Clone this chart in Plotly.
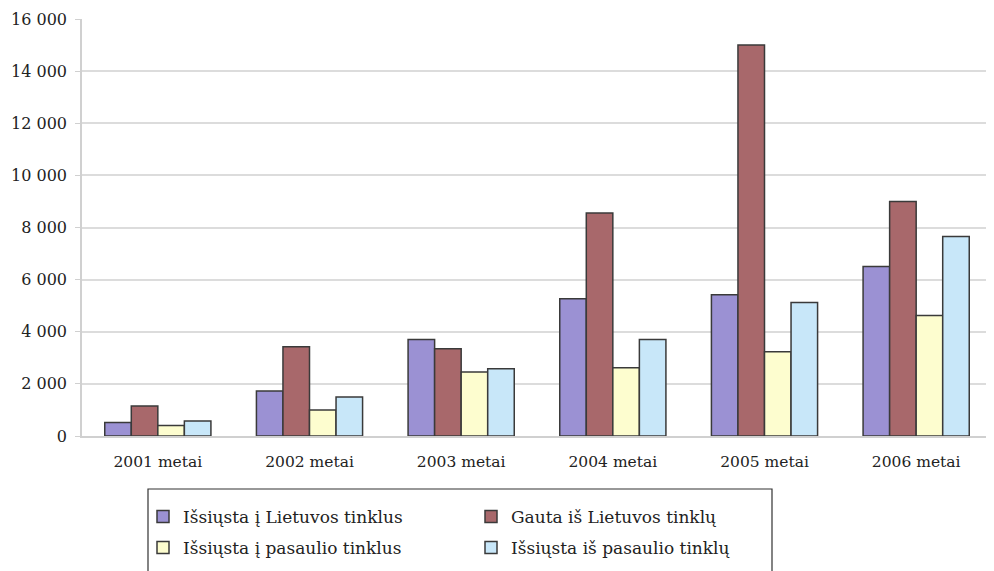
import plotly.graph_objects as go

categories = ["2001 metai", "2002 metai", "2003 metai", "2004 metai", "2005 metai", "2006 metai"]
series_names = ["Išsiųsta į Lietuvos tinklus", "Gauta iš Lietuvos tinklų",
                "Išsiųsta į pasaulio tinklus", "Išsiųsta iš pasaulio tinklų"]
sent_lt = [520, 1730, 3700, 5270, 5420, 6500]
recv_lt = [1150, 3420, 3350, 8560, 15000, 9000]
sent_world = [400, 1000, 2460, 2620, 3230, 4620]
recv_world = [580, 1500, 2580, 3700, 5120, 7650]
tick_vals = [0, 2000, 4000, 6000, 8000, 10000, 12000, 14000, 16000]
tick_text = ["0", "2 000", "4 000", "6 000", "8 000", "10 000", "12 000", "14 000", "16 000"]

colors = ["#9b91d3", "#a8686b", "#fdfdcf", "#c8e7f9"]
values = [sent_lt, recv_lt, sent_world, recv_world]
legend_ids = ["legend", "legend", "legend2", "legend2"]

font_family = "DejaVu Serif"

fig = go.Figure()
for name, vals, col, lg in zip(series_names, values, colors, legend_ids):
    fig.add_trace(go.Bar(
        x=categories, y=vals, name=name, legend=lg,
        marker=dict(color=col, line=dict(color="#3a3a3a", width=1.5)),
    ))

W = 910.0
H = 417.0
leg_common = dict(
    orientation="h", xanchor="left", yanchor="middle",
    entrywidth=283, entrywidthmode="pixels",
    font=dict(family=font_family, size=17, color="#222"),
    bgcolor="rgba(0,0,0,0)", traceorder="normal", itemclick=False,
)
fig.update_layout(
    width=994, height=571,
    margin=dict(l=74, r=10, t=11, b=143, autoexpand=False),
    paper_bgcolor="white", plot_bgcolor="white",
    barmode="group", bargap=0.3, bargroupgap=0,
    font=dict(family=font_family, size=16, color="#222"),
    showlegend=True,
    legend=dict(x=(143 - 82) / W, y=(436 - 517) / H, **leg_common),
    legend2=dict(x=(143 - 82) / W, y=(436 - 548) / H, **leg_common),
    xaxis=dict(
        showgrid=False, showline=True, linecolor="#d0d0d0", linewidth=1.5,
        ticks="", automargin=False, ticklabelstandoff=11,
        tickfont=dict(family=font_family, size=15.5, color="#222"),
    ),
    yaxis=dict(
        range=[0, 16000], tickvals=tick_vals, ticktext=tick_text,
        showgrid=True, gridcolor="#dcdcdc", gridwidth=1.5,
        showline=True, linecolor="#d0d0d0", linewidth=1.5,
        ticks="outside", ticklen=5, tickcolor="#d0d0d0", automargin=False,
        ticklabelstandoff=5,
        tickfont=dict(family=font_family, size=16, color="#222"),
        zeroline=False,
    ),
    shapes=[dict(
        type="rect", xref="paper", yref="paper",
        x0=(148 - 82) / W, x1=(772 - 82) / W,
        y0=(436 - 580) / H, y1=(436 - 489) / H,
        line=dict(color="#333", width=1.2), fillcolor="rgba(0,0,0,0)",
    )],
)

fig.write_html("out.html")
